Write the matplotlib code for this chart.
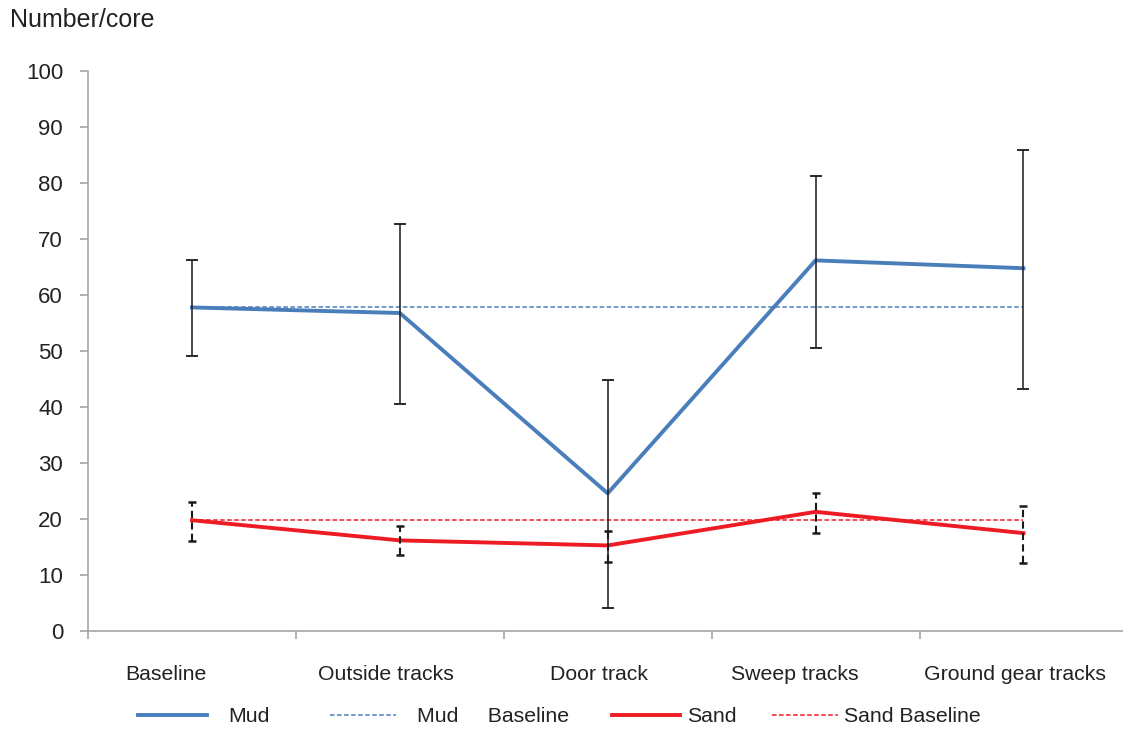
import numpy as np
import matplotlib.pyplot as plt
from matplotlib import transforms

plt.rcParams['font.family'] = ['Liberation Sans', 'DejaVu Sans']

categories = ['Baseline', 'Outside tracks', 'Door track', 'Sweep tracks', 'Ground gear tracks']

mud = [57.8, 56.8, 24.6, 66.2, 64.8]
mud_hi = [66.3, 72.7, 44.9, 81.3, 86.0]
mud_lo = [49.2, 40.5, 4.1, 50.5, 43.2]
mud_baseline = 57.8

sand = [19.8, 16.2, 15.3, 21.3, 17.5]
sand_hi = [23.1, 18.7, 17.8, 24.7, 22.3]
sand_lo = [16.1, 13.6, 12.4, 17.6, 12.1]
sand_baseline = 19.8

blue = '#4a7ebb'
red = '#ed1c24'
grey = '#a6a6a6'

# horizontal shift of each category label, in points (Excel puts them a bit left)
label_shift = [-19, -10, -6, -15, -6]


def main():
    fig = plt.figure(figsize=(11.23, 7.33), dpi=100)
    ax = fig.add_axes([0.0784, 0.139, 0.9255, 0.764])

    x = np.arange(len(categories))

    mud_err = [np.array(mud) - np.array(mud_lo), np.array(mud_hi) - np.array(mud)]
    sand_err = [np.array(sand) - np.array(sand_lo), np.array(sand_hi) - np.array(sand)]

    l_mud, = ax.plot(x, mud, color=blue, lw=2.8, zorder=3, label='Mud')
    l_mudb, = ax.plot(x, [mud_baseline] * len(x), color=blue, lw=1.1, ls=(0, (3, 1.6)),
                      zorder=2, label='Mud     Baseline')
    l_sand, = ax.plot(x, sand, color=red, lw=2.8, zorder=3, label='Sand')
    l_sandb, = ax.plot(x, [sand_baseline] * len(x), color=red, lw=1.1, ls=(0, (3, 1.6)),
                       zorder=2, label='Sand Baseline')

    ax.errorbar(x, mud, yerr=mud_err, fmt='none', ecolor='#1a1a1a', elinewidth=1.1,
                capsize=4.0, capthick=1.3, zorder=4)
    eb = ax.errorbar(x, sand, yerr=sand_err, fmt='none', ecolor='#1a1a1a', elinewidth=1.5,
                     capsize=3.0, capthick=1.8, zorder=4)
    eb[2][0].set_linestyle((0, (3.5, 2)))

    ax.set_xlim(-0.5, len(categories) - 0.5)
    ax.set_ylim(0, 100)
    ax.set_yticks(np.arange(0, 101, 10))
    ax.set_xticks(np.arange(-0.5, len(categories), 1.0))
    ax.set_xticklabels([])
    ax.tick_params(axis='x', length=6, color=grey, width=1.2)
    ax.tick_params(axis='y', length=6, color=grey, width=1.2, labelsize=16, pad=12,
                   labelcolor='#222222')

    base = ax.get_xaxis_transform()
    for xi, name, dx in zip(x, categories, label_shift):
        tr = transforms.offset_copy(base, fig=fig, x=dx, y=-31, units='points')
        ax.text(xi, 0, name, transform=tr, ha='center', va='center', fontsize=15.3,
                color='#222222')

    for s in ['top', 'right']:
        ax.spines[s].set_visible(False)
    for s in ['left', 'bottom']:
        ax.spines[s].set_color(grey)
        ax.spines[s].set_linewidth(1.2)

    fig.text(0.009, 0.973, 'Number/core', fontsize=18, va='center', ha='left', color='#222222')

    # legend entries spaced like the original (uneven gaps)
    entries = [(l_mud, 138, 3.27, 1.0),
               (l_mudb, 330, 3.1, 1.0),
               (l_sand, 612, 3.2, 0.33),
               (l_sandb, 772, 3.1, 0.3)]
    for h, px, hl, tp in entries:
        fig.legend(handles=[h], loc='center left', bbox_to_anchor=(px / 1123, 1 - 717 / 733),
                   frameon=False, fontsize=15.3, handlelength=hl, handletextpad=tp,
                   borderpad=0, borderaxespad=0, labelcolor='#222222')

    fig.savefig('out.png', dpi=100)


if __name__ == '__main__':
    main()
